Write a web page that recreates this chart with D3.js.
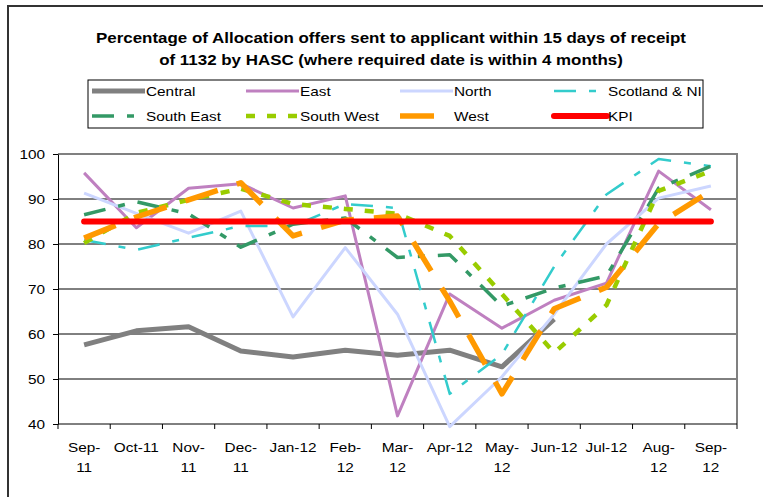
<!DOCTYPE html>
<html>
<head>
<meta charset="utf-8">
<script src="https://cdn.jsdelivr.net/npm/d3@7"></script>
<style>
  body { margin: 0; background: #fff; }
  svg { display: block; font-family: "Liberation Sans", Arial, sans-serif; }
</style>
</head>
<body>
<svg id="chart" width="763" height="497"></svg>
<script>
  // data
  const months = ['Sep-11','Oct-11','Nov-11','Dec-11','Jan-12','Feb-12','Mar-12','Apr-12','May-12','Jun-12','Jul-12','Aug-12','Sep-12'];
  const wrapped = ['Sep-11','Nov-11','Dec-11','Feb-12','Mar-12','May-12','Aug-12','Sep-12'];
  const yTicks = [40, 50, 60, 70, 80, 90, 100];

  const central   = [57.6, 60.7, 61.6, 56.2, 54.9, 56.4, 55.3, 56.4, 52.7, 63.3, null, null, null];
  const east      = [95.8, 83.6, 92.4, 93.4, 88.0, 90.7, 41.8, 68.9, 61.3, 67.5, 71.3, 96.2, 87.6];
  const north     = [91.3, 86.8, 82.4, 87.3, 63.8, 79.2, 64.4, 39.4, 50.5, 64.4, 80.0, 90.2, 92.9];
  const scotland  = [80.9, 78.7, 81.4, 84.0, 84.0, 88.9, 88.0, 46.7, 55.5, 75.0, 91.0, 98.9, 97.3];
  const southEast = [86.5, 89.4, 86.7, 79.3, 84.4, 85.8, 77.0, 77.6, 66.2, 70.2, 72.9, 92.4, 97.3];
  const southWest = [80.2, 86.9, 89.8, 92.3, 88.9, 87.8, 86.7, 81.8, 68.9, 55.8, 66.4, 91.8, 96.2];
  const west      = [81.3, 86.0, 89.8, 93.6, 81.8, 85.3, 86.2, 67.3, 46.7, 65.6, 70.4, 84.5, 91.8];
  const kpi       = [85, 85, 85, 85, 85, 85, 85, 85, 85, 85, 85, 85, 85];

  (function(){
    const series = [
      {name: 'Central',       values: central,   color: '#808080', width: 5,   dash: null},
      {name: 'East',          values: east,      color: '#bf80c0', width: 3,   dash: null},
      {name: 'North',         values: north,     color: '#ccd6ff', width: 3,   dash: null},
      {name: 'Scotland & NI', values: scotland,  color: '#33cccc', width: 2.5, dash: '22,13,7,13'},
      {name: 'South East',    values: southEast, color: '#339966', width: 3.5, dash: '22,13,7,13'},
      {name: 'South West',    values: southWest, color: '#99cc00', width: 4.5, dash: '9,12'},
      {name: 'West',          values: west,      color: '#ff9900', width: 5.5, dash: '34,20'},
      {name: 'KPI',           values: kpi,       color: '#ff0000', width: 6,   dash: null}
    ];

    const svg = d3.select('#chart');
    const K = 1.18; // the reference text is a bit wider than plain Arial

    function stretch(sel, k){
      sel.each(function(){
        let w = this.getComputedTextLength();
        this.setAttribute('textLength', w * k);
        this.setAttribute('lengthAdjust', 'spacingAndGlyphs');
      });
    }

    // outer frame
    svg.append('rect')
        .attr('x', 8).attr('y', 6)
        .attr('width', 800).attr('height', 600)
        .attr('fill', '#fff')
        .attr('stroke', '#333').attr('stroke-width', 2);

    // title
    let title = svg.append('g')
        .attr('font-size', 15)
        .attr('font-weight', 'bold')
        .attr('text-anchor', 'middle');
    let t1 = title.append('text').attr('x', 391).attr('y', 43)
        .text('Percentage of Allocation offers sent to applicant within 15 days of receipt');
    title.append('text').attr('x', 391).attr('y', 65)
        .text('of 1132 by HASC (where required date is within 4 months)');
    let tk = 590 / t1.node().getComputedTextLength();
    stretch(title.selectAll('text'), tk);

    // scales
    let pLeft = 58, pRight = 737, pTop = 154, pBottom = 424;
    let x = d3.scaleBand().domain(months).range([pLeft, pRight]);
    let cx = m => x(m) + x.bandwidth() / 2;
    let y = d3.scaleLinear().domain([40, 100]).range([pBottom, pTop]);

    // gridlines
    svg.append('g')
      .selectAll('line')
      .data(yTicks.filter(v => v > 40 && v < 100))
      .enter().append('line')
        .attr('x1', pLeft).attr('x2', pRight)
        .attr('y1', d => y(d)).attr('y2', d => y(d))
        .attr('stroke', '#000').attr('stroke-width', 1);

    // plot area border (top / right in grey)
    svg.append('path')
        .attr('d', `M${pLeft},${pTop}H${pRight}V${pBottom}`)
        .attr('fill', 'none')
        .attr('stroke', '#808080').attr('stroke-width', 2);

    // y axis
    let yAxis = svg.append('g')
        .attr('transform', `translate(${pLeft},0)`)
        .call(d3.axisLeft(y).tickValues(yTicks).tickSize(5).tickPadding(8).tickSizeOuter(0));
    yAxis.select('.domain').attr('stroke', '#000');
    yAxis.selectAll('line').attr('stroke', '#000');
    yAxis.selectAll('text')
        .attr('font-size', 13)
        .attr('font-family', '"Liberation Sans", Arial, sans-serif')
        .attr('fill', '#000');
    stretch(yAxis.selectAll('text'), K);

    // x axis: ticks sit on the category boundaries
    let xAxis = svg.append('g');
    xAxis.append('line')
        .attr('x1', pLeft).attr('x2', pRight)
        .attr('y1', pBottom).attr('y2', pBottom)
        .attr('stroke', '#000');
    xAxis.selectAll('line.tick')
      .data(months.map(m => x(m)).concat([pRight]))
      .enter().append('line')
        .attr('class', 'tick')
        .attr('x1', d => d).attr('x2', d => d)
        .attr('y1', pBottom).attr('y2', pBottom + 5)
        .attr('stroke', '#000');

    let labels = [];
    months.forEach(m => {
      if(wrapped.includes(m)){
        let i = m.indexOf('-') + 1;
        labels.push({m: m, text: m.slice(0, i), row: 0});
        labels.push({m: m, text: m.slice(i), row: 1});
      } else {
        labels.push({m: m, text: m, row: 0});
      }
    });
    xAxis.selectAll('text')
      .data(labels)
      .enter().append('text')
        .attr('x', d => cx(d.m))
        .attr('y', d => 452 + d.row * 20)
        .attr('text-anchor', 'middle')
        .attr('font-size', 13)
        .text(d => d.text);
    stretch(xAxis.selectAll('text'), K);

    // series
    let line = d3.line()
        .defined(d => d.v !== null)
        .x(d => cx(d.m))
        .y(d => y(d.v));

    svg.append('g')
      .selectAll('path')
      .data(series)
      .enter().append('path')
        .attr('d', s => line(s.values.map((v, i) => ({m: months[i], v: v}))))
        .attr('fill', 'none')
        .attr('stroke', s => s.color)
        .attr('stroke-width', s => s.width)
        .attr('stroke-dasharray', s => s.dash)
        .attr('stroke-linejoin', 'round')
        .attr('stroke-linecap', s => s.name === 'KPI' ? 'round' : 'butt');

    // legend
    let legend = svg.append('g');
    legend.append('rect')
        .attr('x', 88).attr('y', 80)
        .attr('width', 615).attr('height', 48)
        .attr('fill', '#fff')
        .attr('stroke', '#000').attr('stroke-width', 1);

    let item = legend.selectAll('g.item')
      .data(series)
      .enter().append('g')
        .attr('class', 'item')
        .attr('transform', (s, i) => `translate(${92 + (i % 4) * 154},${i < 4 ? 91 : 116})`);

    item.append('line')
        .attr('x1', 0).attr('x2', 53)
        .attr('stroke', s => s.color)
        .attr('stroke-width', s => s.width)
        .attr('stroke-dasharray', s => s.dash)
        .attr('stroke-linecap', s => s.name === 'KPI' ? 'round' : 'butt');

    item.append('text')
        .attr('x', 54)
        .attr('dy', '0.35em')
        .attr('font-size', 13)
        .text(s => s.name);
    stretch(item.selectAll('text'), K);
  })();
</script>
</body>
</html>
